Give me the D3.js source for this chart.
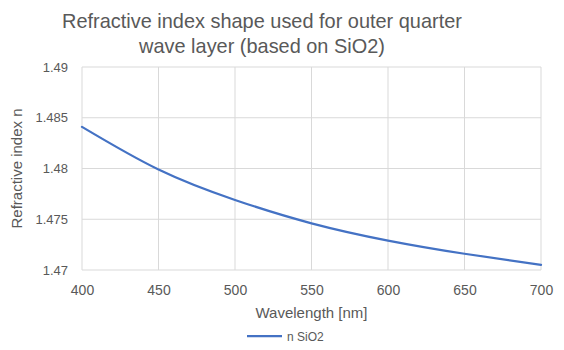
<!DOCTYPE html>
<html>
<head>
<meta charset="utf-8">
<script src="https://cdn.jsdelivr.net/npm/d3@7"></script>
<style>
  html, body { margin: 0; padding: 0; background: #fff; }
  svg { display: block; font-family: "Liberation Sans", "DejaVu Sans", sans-serif; }
</style>
</head>
<body>
<svg id="chart" width="564" height="350"></svg>
<script>
// Wavelength samples (nm) and refractive index of the outer quarter-wave layer
const wavelengths = [400, 450, 500, 550, 600, 650, 700];
const indexValues = [1.4841, 1.4799, 1.4769, 1.4746, 1.4729, 1.4716, 1.4705];
const seriesName = "n SiO2";

const xTicks = [400, 450, 500, 550, 600, 650, 700];
const yTicks = [1.47, 1.475, 1.48, 1.485, 1.49];
const yTickLabels = ["1.47", "1.475", "1.48", "1.485", "1.49"];

const titleLines = ["Refractive index shape used for outer quarter", "wave layer (based on SiO2)"];
const xTitle = "Wavelength [nm]";
const yTitle = "Refractive index n";

const svg = d3.select("#chart");
const textColor = "#595959";
const gridColor = "#d9d9d9";
const lineColor = "#4472c4";

const plot = { left: 82, right: 541, top: 67, bottom: 270 };

const x = d3.scaleLinear().domain([400, 700]).range([plot.left, plot.right]);
const y = d3.scaleLinear().domain([1.47, 1.49]).range([plot.bottom, plot.top]);

// Title, two centred lines
const title = svg.append("g").attr("fill", textColor).attr("text-anchor", "middle");
title.selectAll("text").data(titleLines).join("text")
  .attr("x", 262)
  .attr("y", (d, i) => 28 + i * 25)
  .attr("font-size", 18)
  .text(d => d);
// Fit the first title line to its width
const t0 = title.select("text").node();
const w0 = t0.getComputedTextLength();
title.selectAll("text").attr("font-size", 18 * 400 / w0);

// Horizontal gridlines
svg.append("g").selectAll("line").data(yTicks).join("line")
  .attr("x1", plot.left).attr("x2", plot.right)
  .attr("y1", d => y(d)).attr("y2", d => y(d))
  .attr("stroke", gridColor).attr("stroke-width", 1);

// Vertical gridlines
svg.append("g").selectAll("line").data(xTicks).join("line")
  .attr("x1", d => x(d)).attr("x2", d => x(d))
  .attr("y1", plot.top).attr("y2", plot.bottom)
  .attr("stroke", gridColor).attr("stroke-width", 1);

// Axes (labels only, lines drawn by the grid)
const xAxis = d3.axisBottom(x).tickValues(xTicks).tickSize(0).tickPadding(15).tickFormat(d3.format("d"));
const gx = svg.append("g").attr("transform", `translate(0,${plot.bottom})`).call(xAxis);
gx.select(".domain").remove();
gx.selectAll("text").attr("fill", textColor).attr("font-size", 14).attr("font-family", "Liberation Sans, sans-serif");

const yAxis = d3.axisLeft(y).tickValues(yTicks).tickSize(0).tickPadding(14)
  .tickFormat((d, i) => yTickLabels[i]);
const gy = svg.append("g").attr("transform", `translate(${plot.left},0)`).call(yAxis);
gy.select(".domain").remove();
gy.selectAll("text").attr("fill", textColor).attr("font-size", 13).attr("font-family", "Liberation Sans, sans-serif");

// Axis titles
svg.append("text")
  .attr("x", (plot.left + plot.right) / 2).attr("y", 318)
  .attr("text-anchor", "middle").attr("fill", textColor).attr("font-size", 15)
  .text(xTitle);

svg.append("text")
  .attr("transform", `translate(22,${(plot.top + plot.bottom) / 2}) rotate(-90)`)
  .attr("text-anchor", "middle").attr("fill", textColor).attr("font-size", 15)
  .text(yTitle);

// Data line
const data = wavelengths.map((w, i) => ({ w, n: indexValues[i] }));
svg.append("path")
  .datum(data)
  .attr("fill", "none")
  .attr("stroke", lineColor)
  .attr("stroke-width", 2.25)
  .attr("stroke-linecap", "round")
  .attr("d", d3.line().x(d => x(d.w)).y(d => y(d.n)).curve(d3.curveNatural));

// Legend
const legend = svg.append("g").attr("transform", "translate(247,336)");
legend.append("line").attr("x1", 0).attr("x2", 35).attr("y1", 0).attr("y2", 0)
  .attr("stroke", lineColor).attr("stroke-width", 2.25);
legend.append("text").attr("x", 40).attr("y", 4.5)
  .attr("fill", textColor).attr("font-size", 12).text(seriesName);
</script>
</body>
</html>
